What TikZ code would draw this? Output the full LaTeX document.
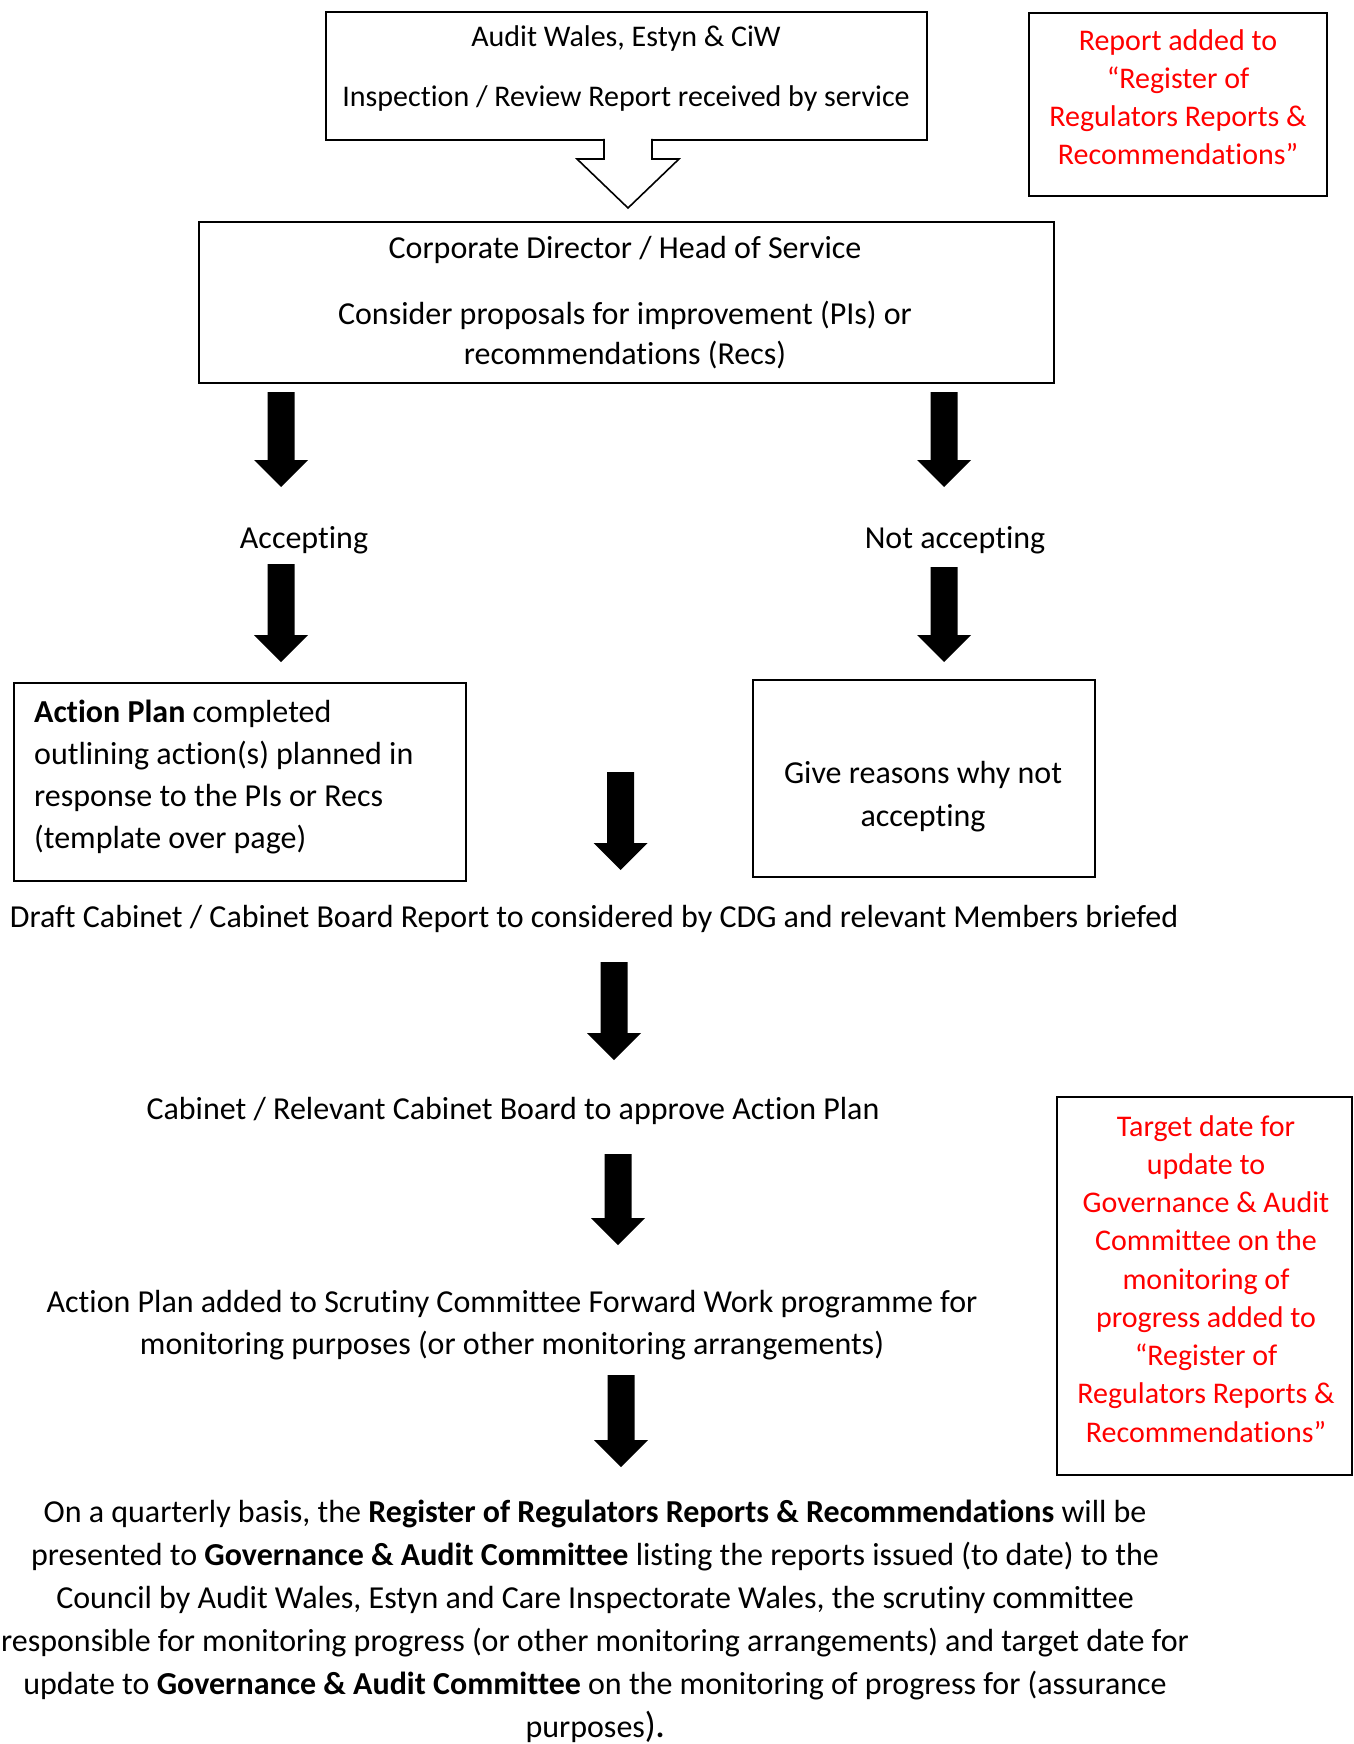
\documentclass[tikz,border=0pt]{standalone}
\usepackage{fontspec}
\setmainfont[Ligatures=NoCommon]{Carlito}
\definecolor{regred}{RGB}{255,0,0}
\newcommand\blockarrow[3]{%
  \fill (#1-13.5,#2) -- (#1+13.5,#2) -- (#1+13.5,#3-27) -- (#1+27,#3-27) -- (#1,#3) -- (#1-27,#3-27) -- (#1-13.5,#3-27) -- cycle;}
\begin{document}
\begin{tikzpicture}[x=1pt,y=-1pt,
  box/.style={draw, line width=1.6pt, inner sep=0, anchor=north west},
  txt/.style={inner sep=0, anchor=base, align=center, font=\fontsize{32}{42}\selectfont},
  redtxt/.style={txt, text=regred, font=\fontsize{30}{38.25}\selectfont}]
\useasboundingbox (0,0) rectangle (1353,1744);
% boxes
\node[box, minimum width=601pt, minimum height=128pt] (topbox) at (325,11) {};
\node[box, minimum width=298pt, minimum height=183pt] (regbox) at (1028,12) {};
\node[box, minimum width=855pt, minimum height=161pt] (corpbox) at (198,221) {};
\node[box, minimum width=452pt, minimum height=198pt] (apbox) at (13,682) {};
\node[box, minimum width=342pt, minimum height=197pt] (nobox) at (752,679) {};
\node[box, minimum width=295pt, minimum height=378pt] (tgtbox) at (1056,1096) {};
% hollow arrow
\fill[white] (605,134) rectangle (651,143);
\draw[line width=1.6pt, line join=miter, fill=white] (604,139) -- (604,159) -- (577,159) -- (628,208) -- (679,159) -- (652,159) -- (652,139);
% texts
\node[txt, font=\fontsize{30}{60}\selectfont] (topT) at (626,107) {Audit Wales, Estyn \& CiW\\Inspection / Review Report received by service};
\node[redtxt] (regT) at (1178,165) {Report added to\\“Register of\\Regulators Reports \&\\Recommendations”};
\node[txt, font=\fontsize{32}{40}\selectfont] (corpT) at (625,364) {Corporate Director / Head of Service\\[26pt]Consider proposals for improvement (PIs) or\\recommendations (Recs)};
\node[txt] (acc) at (304,548) {Accepting};
\node[txt] (nacc) at (955,548) {Not accepting};
\node[txt, anchor=base west, align=left] (apT) at (34,848) {\textbf{Action Plan} completed\\outlining action(s) planned in\\response to the PIs or Recs\\(template over page)};
\node[txt, font=\fontsize{32}{43}\selectfont] (noT) at (923,826) {Give reasons why not\\accepting};
\node[txt] (draft) at (594,927) {Draft Cabinet / Cabinet Board Report to considered by CDG and relevant Members briefed};
\node[txt] (cab) at (513,1119) {Cabinet / Relevant Cabinet Board to approve Action Plan};
\node[txt] (scr) at (512,1354) {Action Plan added to Scrutiny Committee Forward Work programme for\\monitoring purposes (or other monitoring arrangements)};
\node[redtxt] (tgtT) at (1206,1442) {Target date for\\update to\\Governance \& Audit\\Committee on the\\monitoring of\\progress added to\\“Register of\\Regulators Reports \&\\Recommendations”};
\node[txt, font=\fontsize{32}{43}\selectfont] (quart) at (595,1737) {On a quarterly basis, the \textbf{Register of Regulators Reports \& Recommendations} will be\\presented to \textbf{Governance \& Audit Committee} listing the reports issued (to date) to the\\Council by Audit Wales, Estyn and Care Inspectorate Wales, the scrutiny committee\\responsible for monitoring progress (or other monitoring arrangements) and target date for\\update to \textbf{Governance \& Audit Committee} on the monitoring of progress for (assurance\\purposes{\fontsize{36}{43}\selectfont)}\textbf{.}};
% block arrows
\blockarrow{281}{392}{487}
\blockarrow{944}{392}{487}
\blockarrow{281}{564}{662}
\blockarrow{944}{567}{662}
\blockarrow{620.5}{772}{870}
\blockarrow{614}{962}{1060}
\blockarrow{618}{1154}{1245}
\blockarrow{621}{1375}{1467}
\end{tikzpicture}
\end{document}
